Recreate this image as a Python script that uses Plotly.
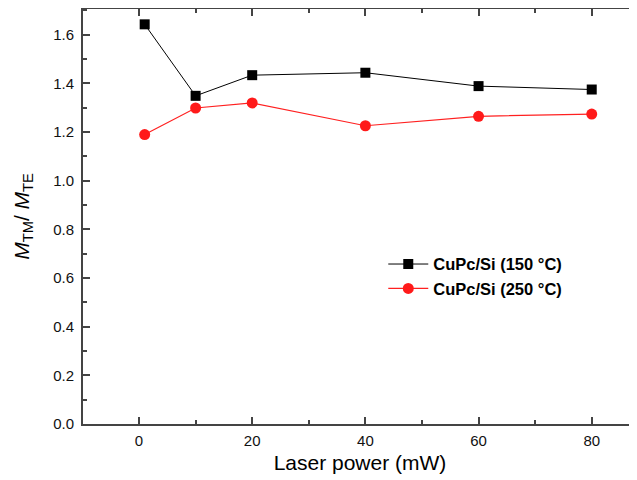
import plotly.graph_objects as go

x_vals = [1, 10, 20, 40, 60, 80]
y_150 = [1.643, 1.349, 1.434, 1.444, 1.389, 1.375]
y_250 = [1.190, 1.299, 1.320, 1.226, 1.265, 1.274]
name_150 = "CuPc/Si (150 °C)"
name_250 = "CuPc/Si (250 °C)"

fig = go.Figure()
fig.add_trace(go.Scatter(x=x_vals, y=y_150, mode="lines+markers", name=name_150,
                         line=dict(color="black", width=1),
                         marker=dict(symbol="square", size=10, color="black")))
fig.add_trace(go.Scatter(x=x_vals, y=y_250, mode="lines+markers", name=name_250,
                         line=dict(color="#ff2020", width=1.2),
                         marker=dict(symbol="circle", size=11, color="#ff1a1a")))

tickfont = dict(family="Liberation Sans, Arial", size=15, color="#111")
fig.update_layout(
    width=629, height=472,
    margin=dict(l=75, r=0, t=1, b=55.5),
    paper_bgcolor="white", plot_bgcolor="white",
    showlegend=True,
    legend=dict(x=0.542, y=0.427, xanchor="left", yanchor="top",
                font=dict(family="Liberation Sans, Arial", size=16.5, color="black", weight="bold"),
                bgcolor="rgba(0,0,0,0)", tracegroupgap=0, itemwidth=40),
    xaxis=dict(range=[-9.9, 88], tickvals=[0, 20, 40, 60, 80],
               ticks="inside", ticklen=7, tickwidth=1.5, tickcolor="#444",
               minor=dict(dtick=10, tick0=0, ticks="inside", ticklen=4, tickcolor="#444", tickwidth=1.5),
               showline=True, linecolor="#444", linewidth=2, mirror="ticks",
               showgrid=False, zeroline=False, tickfont=tickfont, ticklabelstandoff=2,
               title=dict(text="Laser power (mW)", font=dict(family="Liberation Sans, Arial", size=21, color="black"),
                          standoff=7)),
    yaxis=dict(range=[0, 1.706], tickvals=[0, 0.2, 0.4, 0.6, 0.8, 1.0, 1.2, 1.4, 1.6],
               ticktext=["0.0", "0.2", "0.4", "0.6", "0.8", "1.0", "1.2", "1.4", "1.6"],
               ticks="inside", ticklen=7, tickwidth=1.5, tickcolor="#444",
               minor=dict(dtick=0.1, tick0=0, ticks="inside", ticklen=4, tickcolor="#444", tickwidth=1.5),
               showline=True, linecolor="#444", linewidth=2, mirror=False,
               showgrid=False, zeroline=False, tickfont=tickfont, ticklabelstandoff=4,
               title=dict(text="<i>M</i><sub>TM</sub>/ <i>M</i><sub>TE</sub>",
                          font=dict(family="Liberation Sans, Arial", size=21, color="black"),
                          standoff=18)),
)
fig.write_html("out.html")
